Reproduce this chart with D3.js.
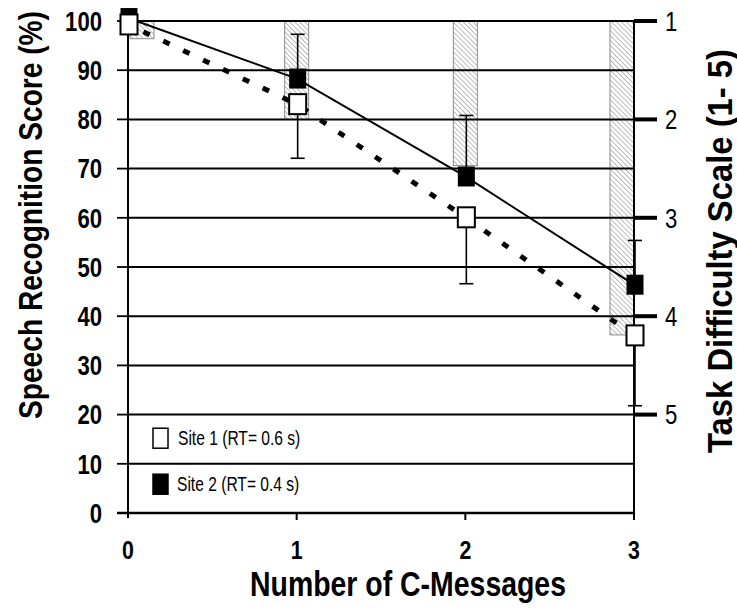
<!DOCTYPE html>
<html>
<head>
<meta charset="utf-8">
<script src="https://cdn.jsdelivr.net/npm/d3@7"></script>
<style>
  body { margin: 0; background: #fff; }
  svg { display: block; }
  text { font-family: "Liberation Sans", Arial, sans-serif; }
</style>
</head>
<body>
<svg id="chart" width="737" height="612"></svg>
<script>
// data
const messages = [0, 1, 2, 3];
const site1 = [99.3, 83.1, 60.1, 36.1];      // open squares, dashed line
const site2 = [100.6, 88.3, 68.4, 46.4];     // filled squares, solid line
const site1ErrLow = [0, 11, 13.5, 14.3];
const site2ErrUp = [0, 9, 12.4, 9];
const difficulty = [1.18, 2.0, 2.47, 4.19];  // hatched bars, right axis
const scoreTicks = d3.range(0, 101, 10);
const difficultyTicks = [1, 2, 3, 4, 5];
const msgTicks = [0, 1, 2, 3];
const legendLabels = ["Site 1 (RT= 0.6 s)", "Site 2 (RT= 0.4 s)"];

const svg = d3.select("#chart");

const x = d3.scaleLinear().domain([0, 3]).range([128, 634]);
const y = d3.scaleLinear().domain([0, 100]).range([513, 21]);
const yR = d3.scaleLinear().domain([1, 5]).range([y(100), y(20)]);
const xR = x(3);
const barW = 24;
const narrow = 0.82; // no narrow font installed, squeeze Liberation Sans instead

// hatch pattern
const defs = svg.append("defs");
const pat = defs.append("pattern")
    .attr("id", "hatch")
    .attr("patternUnits", "userSpaceOnUse")
    .attr("width", 3.5).attr("height", 3.5)
    .attr("patternTransform", "rotate(-45)");
pat.append("rect").attr("width", 3.5).attr("height", 3.5).attr("fill", "#fff");
pat.append("line")
    .attr("x1", 0).attr("y1", 0).attr("x2", 0).attr("y2", 3.5)
    .attr("stroke", "#a0a0a0").attr("stroke-width", 1.4);

// Draw difficulty bars
const barGroup = svg.append("g");
barGroup.selectAll("rect")
    .data(messages)
    .enter()
    .append("rect")
    .attr("x", (d) => {
        const cx = Math.max(x(0) + barW / 2 + 2, Math.min(xR - barW / 2, x(d)));
        return cx - barW / 2;
    })
    .attr("y", yR(1))
    .attr("width", barW)
    .attr("height", (d, i) => yR(difficulty[i]) - yR(1))
    .attr("fill", "url(#hatch)")
    .attr("stroke", "#8a8a8a")
    .attr("stroke-width", 1);

// Gridlines
const gridGroup = svg.append("g");
gridGroup.selectAll("line")
    .data(scoreTicks.filter(d => d > 0))
    .enter()
    .append("line")
    .attr("x1", x(0)).attr("x2", xR)
    .attr("y1", d => y(d)).attr("y2", d => y(d))
    .attr("stroke", "#000")
    .attr("stroke-width", 2);

// Left axis
const leftAxis = svg.append("g");
leftAxis.append("line")
    .attr("x1", x(0)).attr("x2", x(0))
    .attr("y1", y(100)).attr("y2", y(0) + 5)
    .attr("stroke", "#000").attr("stroke-width", 2);
leftAxis.selectAll(".tick")
    .data(scoreTicks)
    .enter()
    .append("line")
    .attr("x1", x(0) - 11).attr("x2", x(0))
    .attr("y1", d => y(d)).attr("y2", d => y(d))
    .attr("stroke", "#000").attr("stroke-width", 1.8);
leftAxis.selectAll("text")
    .data(scoreTicks)
    .enter()
    .append("text")
    .attr("transform", d => `translate(102,${y(d)}) scale(${narrow},1)`)
    .attr("dy", "0.36em")
    .attr("text-anchor", "end")
    .attr("font-size", "27px")
    .attr("font-weight", "bold")
    .text(d => d);

// Bottom axis
const bottomAxis = svg.append("g");
bottomAxis.append("line")
    .attr("x1", x(0) - 11).attr("x2", xR)
    .attr("y1", y(0)).attr("y2", y(0))
    .attr("stroke", "#000").attr("stroke-width", 2.5);
bottomAxis.selectAll(".tick")
    .data(msgTicks.filter(d => d > 0))
    .enter()
    .append("line")
    .attr("x1", d => x(d)).attr("x2", d => x(d))
    .attr("y1", y(0)).attr("y2", y(0) + 7)
    .attr("stroke", "#000").attr("stroke-width", 2);
bottomAxis.selectAll("text")
    .data(msgTicks)
    .enter()
    .append("text")
    .attr("transform", d => `translate(${x(d)},559) scale(${narrow},1)`)
    .attr("text-anchor", "middle")
    .attr("font-size", "26px")
    .attr("font-weight", "bold")
    .text(d => d);

// Right axis
const rightAxis = svg.append("g");
rightAxis.append("line")
    .attr("x1", xR).attr("x2", xR)
    .attr("y1", yR(1)).attr("y2", y(0))
    .attr("stroke", "#000").attr("stroke-width", 2);
rightAxis.selectAll(".tick")
    .data(difficultyTicks)
    .enter()
    .append("line")
    .attr("x1", xR).attr("x2", xR + 23)
    .attr("y1", d => yR(d)).attr("y2", d => yR(d))
    .attr("stroke", "#000").attr("stroke-width", 4);
rightAxis.selectAll("text")
    .data(difficultyTicks)
    .enter()
    .append("text")
    .attr("transform", d => `translate(${xR + 31},${yR(d)}) scale(${narrow},1)`)
    .attr("dy", "0.36em")
    .attr("font-size", "27px")
    .text(d => d);

// Lines
const line1 = d3.line().x((d, i) => x(messages[i])).y(d => y(d));
svg.append("path")
    .attr("d", line1(site1))
    .attr("fill", "none")
    .attr("stroke", "#000")
    .attr("stroke-width", 5)
    .attr("stroke-dasharray", "7,15")
    .attr("stroke-dashoffset", -17);
svg.append("path")
    .attr("d", line1(site2))
    .attr("fill", "none")
    .attr("stroke", "#000")
    .attr("stroke-width", 2);

// Error bars
const errGroup = svg.append("g")
    .attr("stroke", "#000")
    .attr("stroke-width", 1.6);
const errs = messages.map((m, i) => ({m: m, from: site2[i], to: site2[i] + site2ErrUp[i]}))
    .concat(messages.map((m, i) => ({m: m, from: site1[i], to: site1[i] - site1ErrLow[i]})))
    .filter(d => d.from !== d.to);
errGroup.selectAll(".bar")
    .data(errs)
    .enter()
    .append("line")
    .attr("x1", d => x(d.m) + 1).attr("x2", d => x(d.m) + 1)
    .attr("y1", d => y(d.from)).attr("y2", d => y(d.to));
errGroup.selectAll(".cap")
    .data(errs)
    .enter()
    .append("line")
    .attr("x1", d => x(d.m) - 6).attr("x2", d => x(d.m) + 8)
    .attr("y1", d => y(d.to)).attr("y2", d => y(d.to));

// Markers
const mw = 17, mh = 20;
svg.append("g").selectAll("rect")
    .data(site2)
    .enter()
    .append("rect")
    .attr("x", (d, i) => x(messages[i]) - mw / 2 + 1)
    .attr("y", d => y(d) - mh / 2)
    .attr("width", mw).attr("height", mh)
    .attr("fill", "#000");
svg.append("g").selectAll("rect")
    .data(site1)
    .enter()
    .append("rect")
    .attr("x", (d, i) => x(messages[i]) - mw / 2 + 1)
    .attr("y", d => y(d) - mh / 2)
    .attr("width", mw).attr("height", mh)
    .attr("fill", "#fff")
    .attr("stroke", "#000")
    .attr("stroke-width", 2);

// Legend
const legend = svg.append("g");
legendLabels.forEach((lab, i) => {
    const ly = y(15) - 1 + i * 46;
    legend.append("rect")
        .attr("x", 153).attr("y", ly - 10)
        .attr("width", 15).attr("height", 20)
        .attr("fill", i === 0 ? "#fff" : "#000")
        .attr("stroke", "#000")
        .attr("stroke-width", 1.5);
    legend.append("text")
        .attr("transform", `translate(${178 - i},${ly}) scale(0.78,1)`)
        .attr("dy", "0.36em")
        .attr("font-size", "20px")
        .text(lab);
});

// Titles
svg.append("text")
    .attr("transform", "translate(42,215) rotate(-90)")
    .attr("text-anchor", "middle")
    .attr("font-size", "34px")
    .attr("font-weight", "bold")
    .attr("textLength", 408)
    .attr("lengthAdjust", "spacingAndGlyphs")
    .text("Speech Recognition Score (%)");
svg.append("text")
    .attr("transform", "translate(732,251) rotate(-90)")
    .attr("text-anchor", "middle")
    .attr("font-size", "35px")
    .attr("font-weight", "bold")
    .attr("textLength", 404)
    .attr("lengthAdjust", "spacingAndGlyphs")
    .text("Task Difficulty Scale (1- 5)");
svg.append("text")
    .attr("x", 408).attr("y", 596)
    .attr("text-anchor", "middle")
    .attr("font-size", "35px")
    .attr("font-weight", "bold")
    .attr("textLength", 316)
    .attr("lengthAdjust", "spacingAndGlyphs")
    .text("Number of C-Messages");
</script>
</body>
</html>
